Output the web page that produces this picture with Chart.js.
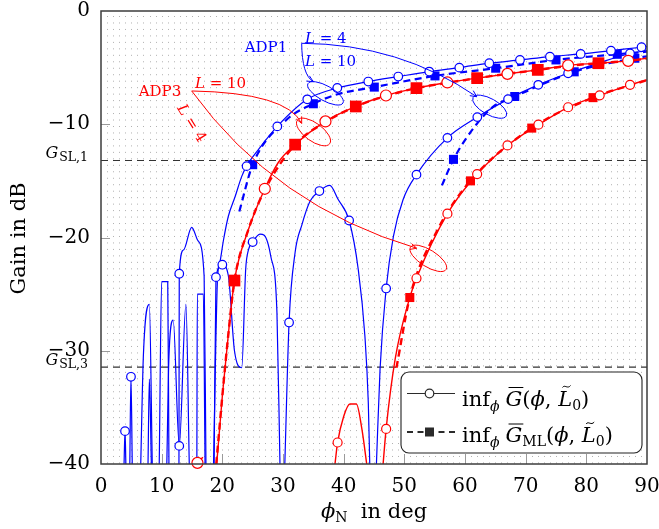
<!DOCTYPE html>
<html>
<head>
<meta charset="utf-8">
<script src="https://cdn.jsdelivr.net/npm/chart.js@4.4.1/dist/chart.umd.min.js"></script>
<style>
  html, body { margin: 0; padding: 0; background: #fff; }
  canvas { display: block; }
</style>
</head>
<body>
<canvas id="gainChart" width="659" height="529"></canvas>
<script>
// ===== DATA ([phi_N in deg, gain in dB]) =====
const xTicks = [0, 10, 20, 30, 40, 50, 60, 70, 80, 90];
const yTicks = [0, -10, -20, -30, -40];
const gslLevels = [-13.2, -31.45];
const gslNames = ["1", "3"];

// ADP1, L = 10 : inf G (solid) and inf G_ML (dashed)
const adp1L10 = [
  [3.8, -40], [3.96, -37.1], [4.1, -40], [5.5, null],
  [6.55, -40], [6.98, -30.5], [7.97, -25.9], [8.45, -40], [9, null],
  [9.6, -40], [10.0, -23.9], [11.0, -23.9], [11.2, -40], [12, null],
  [12.85, -40], [12.9, -23.2], [13.6, -21.1], [14.95, -19.1], [16.0, -20.3], [17.0, -23.4], [17.3, -40], [18, null],
  [18.55, -40], [19.2, -23.7], [19.6, -22.2], [20.2, -20.2], [21.0, -18.1], [22.1, -16.4], [23.2, -14.6],
  [24.0, -13.7], [26.0, -12.2], [29.06, -10.19], [34.0, -7.8], [38.95, -6.8], [44.06, -6.23], [49.0, -5.79],
  [54.1, -5.35], [59.06, -5.0], [64.0, -4.61], [69.06, -4.32], [74.0, -4.03], [79.07, -3.79], [84.06, -3.5],
  [89.1, -3.2], [90, -3.15]
];
const adp1L10Marks = [3.96, 12.9, 24.0, 29.06, 34.0, 38.95, 44.06, 49.0, 54.1, 59.06, 64.0, 69.06, 74.0, 79.07, 84.06, 89.1];
const adp1L10ML = [
  [22.8, -17.7], [25.0, -13.57], [30.5, -9.65], [35.0, -8.19], [39.0, -7.35], [45.05, -6.72], [55.05, -5.73],
  [65.06, -5.05], [75.0, -4.32], [85.1, -3.82], [90, -3.6]
];
const adp1L10MLMarks = [25.0, 35.0, 45.05, 55.05, 65.06, 75.0, 85.1];

// ADP1, L = 4
const adp1L4 = [
  [4.75, -40], [4.94, -32.3], [5.15, -40], [6, null],
  [7.75, -40], [7.97, -32.5], [8.3, -40], [9, null],
  [10.85, -40], [11.2, -30.5], [11.9, -27.3], [12.9, -38.4], [14.0, -25.9], [14.55, -40], [15, null],
  [15.8, -40], [15.88, -25.0], [16.87, -25.0], [17.15, -40], [18, null],
  [18.65, -40], [18.95, -23.5], [20.0, -22.4], [21.0, -23.4], [22.0, -30.0], [23.2, -31.5], [23.85, -22.8],
  [24.3, -21.1], [25.0, -20.4], [26.2, -19.7], [26.9, -19.8], [28.0, -21.7], [29.0, -26.6], [29.5, -40], [29.9, null],
  [30.3, -40], [31.0, -27.5], [32.0, -21.3], [33.1, -18.9], [34.45, -16.8], [36.0, -15.9], [37.7, -15.4],
  [39.1, -16.65], [40.9, -18.5], [42.4, -22.8], [43.5, -28.7], [44.06, -34.6], [44.3, -40], [44.9, null],
  [45.4, -40], [46.0, -31.6], [47.0, -24.5], [48.2, -19.9], [49.8, -16.65], [52.0, -14.45], [57.1, -11.2],
  [62.03, -9.37], [67.1, -7.78], [72.08, -6.52], [77.0, -5.5], [82.0, -4.6], [87.2, -3.75], [90, -3.5]
];
const adp1L4Marks = [4.94, 12.9, 18.95, 20.0, 25.0, 31.0, 36.0, 40.9, 47.0, 52.0, 57.1, 62.03, 67.1, 72.08, 77.0, 82.0, 87.2];
const adp1L4ML = [
  [56.2, -15.4], [58.1, -13.1], [61.9, -10.0], [64.7, -8.43], [68.2, -7.55], [78.0, -5.37], [88.0, -4.17], [90, -4.0]
];
const adp1L4MLMarks = [58.1, 68.2, 78.0, 88.0];

// ADP3, L = 10
const adp3L10 = [
  [15.9, -39.9], [16.8, -39.4], [17.3, null],
  [19.07, -40], [20.0, -34.0], [21.0, -28.5], [22.0, -23.8], [24.3, -19.3], [27.0, -15.7], [29.2, -13.4],
  [32.0, -11.8], [37.0, -9.75], [42.0, -8.43], [46.97, -7.46], [52.0, -6.81], [57.1, -6.31], [62.0, -5.93],
  [67.0, -5.55], [72.0, -5.2], [77.0, -4.8], [82.0, -4.61], [86.9, -4.4], [90, -4.17]
];
const adp3L10Marks = [15.9, 27.0, 37.0, 46.97, 57.1, 67.0, 77.0, 86.9];
const adp3L10ML = [
  [19.0, -40], [20.0, -34.0], [21.0, -28.5], [22.0, -23.8], [24.3, -19.3], [27.0, -15.8], [32.0, -11.8],
  [37.0, -9.8], [42.0, -8.43], [47.0, -7.5], [52.0, -6.81], [57.0, -6.35], [62.0, -5.93], [67.0, -5.55],
  [72.0, -5.2], [77.0, -4.85], [82.0, -4.61], [87.0, -4.4], [90, -4.2]
];
const adp3L10MLMarks = [22.0, 32.0, 42.0, 52.0, 62.0, 72.0, 82.0];

// ADP3, L = 4
const adp3L4 = [
  [38.57, -40], [39.0, -38.1], [40.0, -35.8], [41.04, -34.7], [42.1, -34.7], [43.0, -36.9], [43.8, -40], [45, null],
  [46.5, -40], [47.0, -36.9], [48.5, -30.7], [50.9, -25.3], [52.0, -23.6], [57.1, -17.9], [62.0, -14.4],
  [67.0, -11.87], [72.1, -10.04], [77.0, -8.5], [82.2, -7.45], [87.2, -6.52], [90, -6.08]
];
const adp3L4Marks = [39.0, 47.0, 52.0, 57.1, 62.0, 67.0, 72.1, 77.0, 82.2, 87.2];
const adp3L4ML = [
  [48.7, -31.5], [50.9, -25.3], [55.5, -19.3], [60.9, -15.0], [71.0, -10.34], [81.1, -7.65], [90, -6.1]
];
const adp3L4MLMarks = [50.9, 60.9, 71.0, 81.1];

// ===== STYLE =====
const BLUE = "rgb(0,0,255)";
const RED = "rgb(255,0,0)";
const INK = "#2b2b2b";
const R = s => s + 'px "DejaVu Serif"';
const I = s => 'italic ' + s + 'px "DejaVu Serif"';
// plot frame in canvas pixels
const FRAME = { left: 101, top: 11, right: 647, bottom: 464 };

function toPoints(arr) {
  return arr.map(([x, y]) => ({ x: x, y: y }));
}

function markRadius(marks, r) {
  return c => {
    const p = c.raw;
    if (!p || p.y === null) return 0;
    return marks.some(m => Math.abs(m - p.x) < 1e-6) ? r : 0;
  };
}

function curve(data, marks, color, dashed, o) {
  return {
    data: toPoints(data),
    borderColor: color,
    borderWidth: dashed ? o.dw : o.sw,
    borderDash: dashed ? [7, 4.5] : [],
    cubicInterpolationMode: "monotone",
    spanGaps: false,
    pointStyle: dashed ? "rect" : "circle",
    pointRadius: markRadius(marks, dashed ? o.sq : o.ci),
    pointBackgroundColor: dashed ? color : "#fff",
    pointBorderColor: color,
    pointBorderWidth: dashed ? 0 : 1.2,
    clip: 8
  };
}

function levelLine(g) {
  return {
    data: [{ x: xTicks[0], y: g }, { x: xTicks[xTicks.length - 1], y: g }],
    borderColor: "#333",
    borderWidth: 1.2,
    borderDash: [7, 5],
    pointRadius: 0
  };
}

// ===== ANNOTATIONS (anchors in data units) =====
const notes = [
  { color: BLUE, origin: [33.08, -2.85],
    arrows: [{ c: [33.13, -5.65], end: [34.99, -6.24] }, { c: [49.28, -2.91], end: [61.93, -7.57] }],
    ellipses: [{ at: [37.0, -7.27], a: 20, b: 7.5, rot: 29 }, { at: [64.07, -8.45], a: 19, b: 8, rot: 29 }] },
  { color: RED, origin: [14.95, -7.06],
    arrows: [{ c: [30.61, -7.22], end: [33.08, -9.92] }, { c: [28.76, -17.26], end: [52.04, -20.95] }],
    ellipses: [{ at: [35.03, -10.68], a: 20, b: 9, rot: 36 }, { at: [53.95, -21.84], a: 21, b: 8.4, rot: 32 }] }
];

function rich(ctx, parts, x, y, align) {
  let w = 0;
  parts.forEach(p => {
    if (p.gap != null) { p.w = p.gap; } else { ctx.font = p.f; p.w = ctx.measureText(p.t).width; }
    w += p.w;
  });
  let cx = align === "center" ? x - w / 2 : align === "right" ? x - w : x;
  ctx.textAlign = "left";
  ctx.textBaseline = "alphabetic";
  parts.forEach(p => {
    if (p.t) {
      ctx.font = p.f;
      ctx.fillText(p.t, cx, y + (p.dy || 0));
      if (p.bar) {
        ctx.beginPath();
        ctx.lineWidth = 1;
        ctx.moveTo(cx + 3, y - p.bar);
        ctx.lineTo(cx + p.w + 1, y - p.bar);
        ctx.stroke();
      }
      if (p.tilde) {
        const tx = cx + p.w * 0.6, ty = y - p.tilde;
        ctx.beginPath();
        ctx.lineWidth = 1;
        ctx.moveTo(tx - 4, ty + 1);
        ctx.bezierCurveTo(tx - 2, ty - 2.5, tx + 1, ty + 3, tx + 4, ty - 1);
        ctx.stroke();
      }
    }
    cx += p.w;
  });
}

function arrow(ctx, p0, c, p1) {
  ctx.beginPath();
  ctx.moveTo(p0[0], p0[1]);
  ctx.quadraticCurveTo(c[0], c[1], p1[0], p1[1]);
  ctx.stroke();
  const ang = Math.atan2(p1[1] - c[1], p1[0] - c[0]);
  const L = 7;
  ctx.beginPath();
  ctx.moveTo(p1[0] - L * Math.cos(ang - 0.45), p1[1] - L * Math.sin(ang - 0.45));
  ctx.lineTo(p1[0], p1[1]);
  ctx.lineTo(p1[0] - L * Math.cos(ang + 0.45), p1[1] - L * Math.sin(ang + 0.45));
  ctx.stroke();
}

// pin the plot area to the frame of the reference
const pinArea = {
  id: "pinArea",
  afterLayout(chart) {
    const a = chart.chartArea;
    Object.assign(a, FRAME);
    a.width = FRAME.right - FRAME.left;
    a.height = FRAME.bottom - FRAME.top;
    const { x, y } = chart.scales;
    x.left = FRAME.left; x.right = FRAME.right; x.width = a.width;
    x.top = FRAME.bottom; x.bottom = chart.height;
    y.top = FRAME.top; y.bottom = FRAME.bottom; y.height = a.height;
    y.left = 0; y.right = FRAME.left; y.width = FRAME.left;
    x.configure(); y.configure();
  }
};

const decor = {
  id: "decor",
  beforeDatasetsDraw(chart) {
    const { ctx, chartArea: a, scales: { x, y } } = chart;
    ctx.save();
    // dotted minor grid
    ctx.strokeStyle = "#b0b0b0";
    ctx.lineWidth = 1;
    ctx.setLineDash([1, 5.47]);
    for (let v = xTicks[0] + 1; v < xTicks[xTicks.length - 1]; v++) {
      const px = Math.round(x.getPixelForValue(v)) + 0.5;
      ctx.beginPath();
      ctx.moveTo(px, a.top + 5);
      ctx.lineTo(px, a.bottom);
      ctx.stroke();
    }
    ctx.setLineDash([]);
    // major tick marks
    ctx.strokeStyle = "#9a9a9a";
    xTicks.slice(1, -1).forEach(v => {
      const px = Math.round(x.getPixelForValue(v)) + 0.5;
      ctx.beginPath(); ctx.moveTo(px, a.bottom); ctx.lineTo(px, a.bottom - 10); ctx.stroke();
    });
    yTicks.slice(1, -1).forEach(v => {
      const py = Math.round(y.getPixelForValue(v)) + 0.5;
      ctx.beginPath(); ctx.moveTo(a.left, py); ctx.lineTo(a.left + 9, py); ctx.stroke();
    });
    ctx.restore();
  },
  afterDatasetsDraw(chart) {
    const { ctx, chartArea: a, scales: { x, y } } = chart;
    const P = v => [x.getPixelForValue(v[0]), y.getPixelForValue(v[1])];
    ctx.save();

    // frame
    ctx.strokeStyle = "#3c3c3c";
    ctx.lineWidth = 1.5;
    ctx.strokeRect(a.left, a.top, a.width, a.height);

    // arrows and ellipses
    notes.forEach(n => {
      ctx.strokeStyle = n.color;
      ctx.lineWidth = 1;
      n.arrows.forEach(ar => arrow(ctx, P(n.origin), P(ar.c), P(ar.end)));
      n.ellipses.forEach(e => {
        const c = P(e.at);
        ctx.beginPath();
        ctx.ellipse(c[0], c[1], e.a, e.b, e.rot * Math.PI / 180, 0, 2 * Math.PI);
        ctx.stroke();
      });
    });

    // annotation text
    ctx.fillStyle = BLUE;
    let p = P([27.2, -3.58]);
    rich(ctx, [{ t: "ADP1", f: R(15) }], p[0], p[1], "center");
    p = P([33.62, -2.83]);
    rich(ctx, [{ t: "L", f: I(15) }, { t: " = 4", f: R(15) }], p[0], p[1], "left");
    p = P([33.62, -4.86]);
    rich(ctx, [{ t: "L", f: I(15) }, { t: " = 10", f: R(15) }], p[0], p[1], "left");
    ctx.fillStyle = RED;
    p = P([9.72, -7.48]);
    rich(ctx, [{ t: "ADP3", f: R(15) }], p[0], p[1], "center");
    p = P([15.49, -6.8]);
    rich(ctx, [{ t: "L", f: I(15) }, { t: " = 10", f: R(15) }], p[0], p[1], "left");
    p = P([14.99, -9.89]);
    ctx.save();
    ctx.translate(p[0], p[1]);
    ctx.rotate(58 * Math.PI / 180);
    rich(ctx, [{ t: "L", f: I(15) }, { t: " = 4", f: R(15) }], 0, 5, "center");
    ctx.restore();

    // G_SL labels
    ctx.fillStyle = "#000";
    gslLevels.forEach((g, i) => {
      const py = y.getPixelForValue(g);
      rich(ctx, [{ t: "G", f: I(16) }, { gap: 1 }, { t: "SL," + gslNames[i], f: R(12.5), dy: 3 }], a.left - 13, py - 2, "right");
    });

    // axis titles
    ctx.save();
    ctx.translate(25, (a.top + a.bottom) / 2 + 1);
    ctx.rotate(-Math.PI / 2);
    rich(ctx, [{ t: "Gain in dB", f: R(21) }], 0, 0, "center");
    ctx.restore();
    rich(ctx, [{ t: "\u03D5", f: I(21) }, { t: "N", f: R(14), dy: 4 }, { t: "  in deg", f: R(21) }],
      (a.left + a.right) / 2, 518, "center");

    // legend box
    const bx = a.right - 246, by = a.bottom - 92, bw = 241, bh = 81;
    ctx.fillStyle = "#fff";
    ctx.strokeStyle = "#222";
    ctx.lineWidth = 1.1;
    ctx.beginPath();
    ctx.roundRect(bx, by, bw, bh, 8);
    ctx.fill();
    ctx.stroke();

    const r1 = by + 21.5, r2 = by + 60;
    ctx.strokeStyle = INK;
    ctx.lineWidth = 1;
    ctx.beginPath(); ctx.moveTo(bx + 6, r1); ctx.lineTo(bx + 54, r1); ctx.stroke();
    ctx.beginPath(); ctx.arc(bx + 28.5, r1, 4.3, 0, 2 * Math.PI);
    ctx.fillStyle = "#fff"; ctx.fill(); ctx.lineWidth = 1.2; ctx.stroke();
    ctx.lineWidth = 2;
    ctx.setLineDash([6, 4.5]);
    ctx.beginPath(); ctx.moveTo(bx + 6, r2); ctx.lineTo(bx + 54, r2); ctx.stroke();
    ctx.setLineDash([]);
    ctx.fillStyle = INK;
    ctx.fillRect(bx + 24, r2 - 4.5, 9, 9);

    ctx.fillStyle = "#000";
    ctx.strokeStyle = "#000";
    const phi = "\u03D5";
    rich(ctx, [
      { t: "inf", f: R(21) }, { t: phi, f: I(14), dy: 5 }, { gap: 6 },
      { t: "G", f: I(21), bar: 18 }, { t: "(", f: R(21) }, { t: phi, f: I(21) }, { t: ", ", f: R(21) },
      { t: "L", f: I(21), tilde: 19 }, { t: "0", f: R(14), dy: 4 }, { t: ")", f: R(21) }
    ], bx + 61, r1 + 12, "left");
    rich(ctx, [
      { t: "inf", f: R(21) }, { t: phi, f: I(14), dy: 5 }, { gap: 6 },
      { t: "G", f: I(21), bar: 18 }, { t: "ML", f: R(14), dy: 4 }, { t: "(", f: R(21) }, { t: phi, f: I(21) },
      { t: ", ", f: R(21) }, { t: "L", f: I(21), tilde: 19 }, { t: "0", f: R(14), dy: 4 }, { t: ")", f: R(21) }
    ], bx + 61, r2 + 10, "left");

    ctx.restore();
  }
};

// ===== CREATE CHART =====
const ctx = document.getElementById("gainChart").getContext("2d");

const gainChart = new Chart(ctx, {
  type: "line",
  data: {
    datasets: [
      curve(adp3L4, adp3L4Marks, RED, false, { sw: 1.4, ci: 4.5 }),
      curve(adp3L4ML, adp3L4MLMarks, RED, true, { dw: 2.4, sq: 6.4 }),
      curve(adp3L10, adp3L10Marks, RED, false, { sw: 1.4, ci: 5.5 }),
      curve(adp3L10ML, adp3L10MLMarks, RED, true, { dw: 2.4, sq: 8.3 }),
      curve(adp1L4, adp1L4Marks, BLUE, false, { sw: 1.2, ci: 4.3 }),
      curve(adp1L4ML, adp1L4MLMarks, BLUE, true, { dw: 2.2, sq: 6.4 }),
      curve(adp1L10, adp1L10Marks, BLUE, false, { sw: 1.2, ci: 4.3 }),
      curve(adp1L10ML, adp1L10MLMarks, BLUE, true, { dw: 2.2, sq: 6.4 }),
      ...gslLevels.map(levelLine)
    ]
  },
  options: {
    responsive: false,
    animation: false,
    devicePixelRatio: 1,
    events: [],
    layout: { padding: 0 },
    plugins: { legend: { display: false }, tooltip: { enabled: false } },
    scales: {
      x: {
        type: "linear",
        min: xTicks[0],
        max: xTicks[xTicks.length - 1],
        afterBuildTicks: s => { s.ticks = xTicks.map(v => ({ value: v })); },
        grid: { display: false, drawTicks: false },
        border: { display: false },
        ticks: { color: "#000", font: { family: "DejaVu Serif", size: 20 }, padding: 11, maxRotation: 0, autoSkip: false }
      },
      y: {
        type: "linear",
        min: yTicks[yTicks.length - 1],
        max: yTicks[0],
        afterBuildTicks: s => { s.ticks = yTicks.map(v => ({ value: v })); },
        grid: { display: false, drawTicks: false },
        border: { display: false },
        ticks: {
          color: "#000",
          font: { family: "DejaVu Serif", size: 20 },
          padding: 11,
          autoSkip: false,
          callback: v => (v < 0 ? "\u2212" + Math.abs(v) : String(v))
        }
      }
    }
  },
  plugins: [pinArea, decor]
});
</script>
</body>
</html>
